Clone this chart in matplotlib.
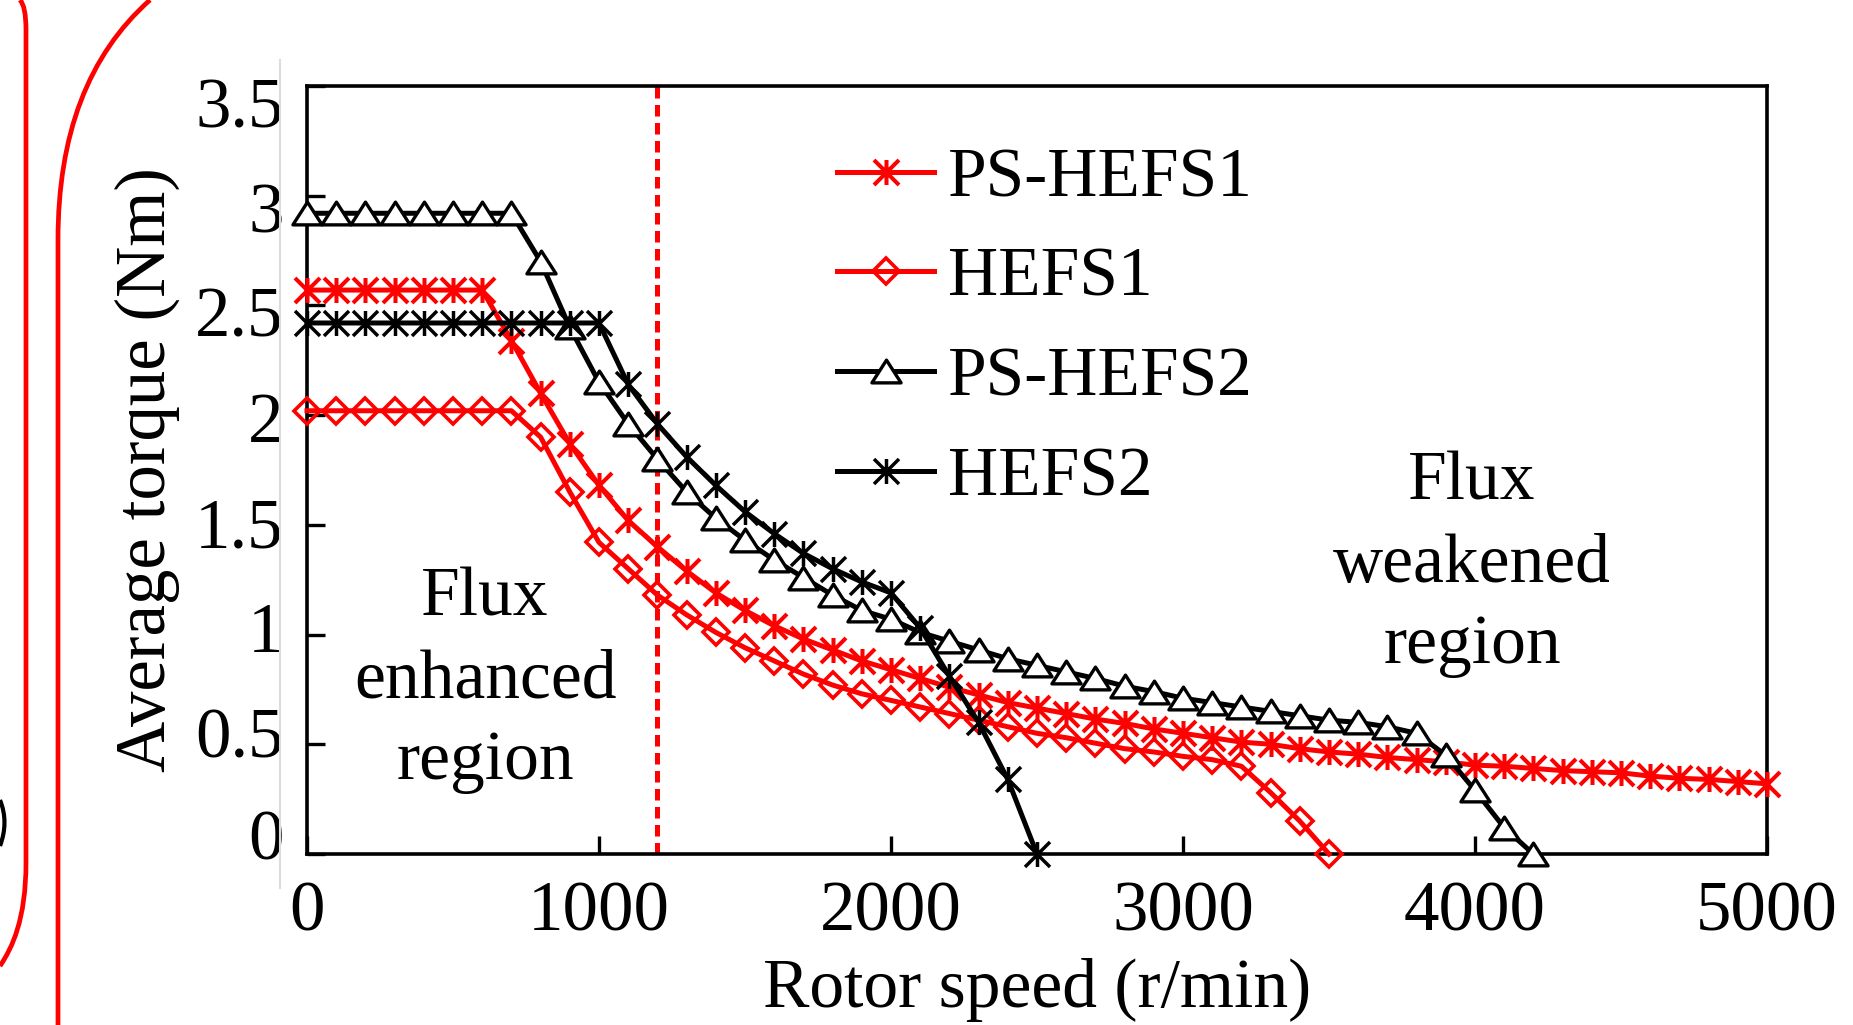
import numpy as np
import matplotlib
matplotlib.use('Agg')
import matplotlib.pyplot as plt
from matplotlib.path import Path
from matplotlib.patches import PathPatch
from matplotlib.lines import Line2D
from matplotlib.transforms import ScaledTranslation

plt.rcParams['font.family'] = ['Liberation Serif', 'DejaVu Serif']

# rotor speed, r/min (100 r/min steps)
speed = [0, 100, 200, 300, 400, 500, 600, 700, 800, 900,
         1000, 1100, 1200, 1300, 1400, 1500, 1600, 1700, 1800, 1900,
         2000, 2100, 2200, 2300, 2400, 2500, 2600, 2700, 2800, 2900,
         3000, 3100, 3200, 3300, 3400, 3500, 3600, 3700, 3800, 3900,
         4000, 4100, 4200, 4300, 4400, 4500, 4600, 4700, 4800, 4900, 5000]

# average torque, Nm
ps_hefs1 = [2.57, 2.57, 2.57, 2.57, 2.57, 2.57, 2.57, 2.34, 2.10, 1.87,
            1.68, 1.52, 1.40, 1.29, 1.19, 1.11, 1.04, 0.98, 0.93, 0.88,
            0.84, 0.80, 0.76, 0.725, 0.69, 0.665, 0.64, 0.615, 0.595, 0.57,
            0.55, 0.53, 0.51, 0.50, 0.48, 0.465, 0.455, 0.44, 0.43, 0.42,
            0.405, 0.40, 0.39, 0.38, 0.375, 0.37, 0.355, 0.345, 0.34, 0.33, 0.32]
hefs1 = [2.02, 2.02, 2.02, 2.02, 2.02, 2.02, 2.02, 2.02, 1.90, 1.65,
         1.42, 1.30, 1.18, 1.09, 1.01, 0.94, 0.88, 0.82, 0.77, 0.73,
         0.70, 0.67, 0.64, 0.61, 0.58, 0.55, 0.53, 0.505, 0.48, 0.465,
         0.445, 0.43, 0.40, 0.28, 0.15, 0.0]
ps_hefs2 = [2.92, 2.92, 2.92, 2.92, 2.92, 2.92, 2.92, 2.92, 2.70, 2.40,
            2.15, 1.96, 1.80, 1.65, 1.53, 1.43, 1.34, 1.26, 1.18, 1.11,
            1.07, 1.01, 0.97, 0.93, 0.89, 0.86, 0.83, 0.80, 0.765, 0.74,
            0.71, 0.69, 0.67, 0.65, 0.63, 0.61, 0.60, 0.58, 0.55, 0.45,
            0.29, 0.12, 0.0]
hefs2 = [2.42, 2.42, 2.42, 2.42, 2.42, 2.42, 2.42, 2.42, 2.42, 2.42,
         2.42, 2.14, 1.96, 1.81, 1.68, 1.56, 1.46, 1.37, 1.30, 1.24,
         1.19, 1.03, 0.81, 0.60, 0.34, 0.0]

base_speed = 1200
xticks = [0, 1000, 2000, 3000, 4000, 5000]
yticks = [0, 0.5, 1, 1.5, 2, 2.5, 3, 3.5]
ytick_labels = ['0', '0.5', '1', '1.5', '2', '2.5', '3', '3.5']
# the y labels in the original sit a little off their ticks (px, + = down)
ylab_shift = [-19, -12, -8, -2, 2, 6, 12, 17]

# excel-like markers
star = Path([(-1, -1), (1, 1), (-1, 1), (1, -1), (0, -1), (0, 1)],
            [Path.MOVETO, Path.LINETO] * 3)
tri = Path([(-1, -0.78), (1, -0.78), (0, 0.78), (-1, -0.78)],
           [Path.MOVETO, Path.LINETO, Path.LINETO, Path.CLOSEPOLY])

W, H = 1853, 1025
fig = plt.figure(figsize=(W / 100, H / 100), dpi=100)
ax = fig.add_axes([307 / W, 1 - 854 / H, (1767 - 307) / W, (854 - 86) / H])

ax.axvline(base_speed, color='#ff0000', lw=3.6, dashes=(2.3, 1.3), zorder=1)

ax.plot(speed[:len(ps_hefs1)], ps_hefs1, color='#ff0000', lw=3.6, marker=star,
        ms=18, mew=2.9, label='PS-HEFS1', clip_on=False, zorder=3)
ax.plot(speed[:len(hefs1)], hefs1, color='#ff0000', lw=3.6, marker='D', ms=13,
        mew=2.6, mfc='none', label='HEFS1', clip_on=False, zorder=3)
ax.plot(speed[:len(ps_hefs2)], ps_hefs2, color='black', lw=3.6, marker=tri,
        ms=21, mew=2.4, mfc='white', label='PS-HEFS2', clip_on=False, zorder=4)
ax.plot(speed[:len(hefs2)], hefs2, color='black', lw=3.6, marker=star,
        ms=18, mew=2.5, label='HEFS2', clip_on=False, zorder=4)

ax.set_xlim(0, 5000)
ax.set_ylim(0, 3.5)
ax.set_xticks(xticks)
ax.set_yticks(yticks)
ax.set_yticklabels(ytick_labels)
ax.tick_params(axis='both', direction='in', length=13, width=2.4, labelsize=51)
ax.tick_params(axis='x', pad=19)
ax.tick_params(axis='y', pad=17)
for lab, dy in zip(ax.get_yticklabels(), ylab_shift):
    lab.set_transform(lab.get_transform() + ScaledTranslation(0, -dy / 100, fig.dpi_scale_trans))
for sp in ax.spines.values():
    sp.set_linewidth(2.6)

ax.set_xlabel('Rotor speed (r/min)', fontsize=50, labelpad=9)
ax.set_ylabel('Average torque (Nm)', fontsize=51, labelpad=11)

ax.text(610, 0.79, 'Flux\nenhanced\nregion', fontsize=50, ha='center', va='center',
        linespacing=1.38)
ax.text(3990, 1.318, 'Flux\nweakened\nregion', fontsize=50, ha='center', va='center',
        linespacing=1.38)

ax.legend(loc='upper left', bbox_to_anchor=(0.363, 0.92), frameon=False, fontsize=50,
          handlelength=1.4, handletextpad=0.2, labelspacing=0.52, borderpad=0,
          borderaxespad=0)

# leftover pieces of the surrounding figure
def fig_path(pts, codes):
    return Path([(x / W, 1 - y / H) for x, y in pts], codes)

frame1 = fig_path([(20, 0), (26, 6), (26, 30), (26, 862), (26, 920), (12, 948), (0, 966)],
                  [Path.MOVETO, Path.CURVE3, Path.CURVE3, Path.LINETO,
                   Path.CURVE4, Path.CURVE4, Path.CURVE4])
frame2 = fig_path([(150, 0), (88, 55), (58, 135), (58, 240), (58, 1025)],
                  [Path.MOVETO, Path.CURVE4, Path.CURVE4, Path.CURVE4, Path.LINETO])
glyph = fig_path([(0, 800), (9, 822), (0, 846)], [Path.MOVETO, Path.CURVE3, Path.CURVE3])
for p in (frame1, frame2):
    fig.patches.append(PathPatch(p, transform=fig.transFigure, fill=False,
                                 edgecolor='#ff0000', lw=3.4))
fig.patches.append(PathPatch(glyph, transform=fig.transFigure, fill=False,
                             edgecolor='black', lw=3))
fig.lines.append(Line2D([280 / W, 280 / W], [1 - 60 / H, 1 - 888 / H],
                        transform=fig.transFigure, color='#dcdcdc', lw=1.5))

fig.savefig('out.png', dpi=100)
